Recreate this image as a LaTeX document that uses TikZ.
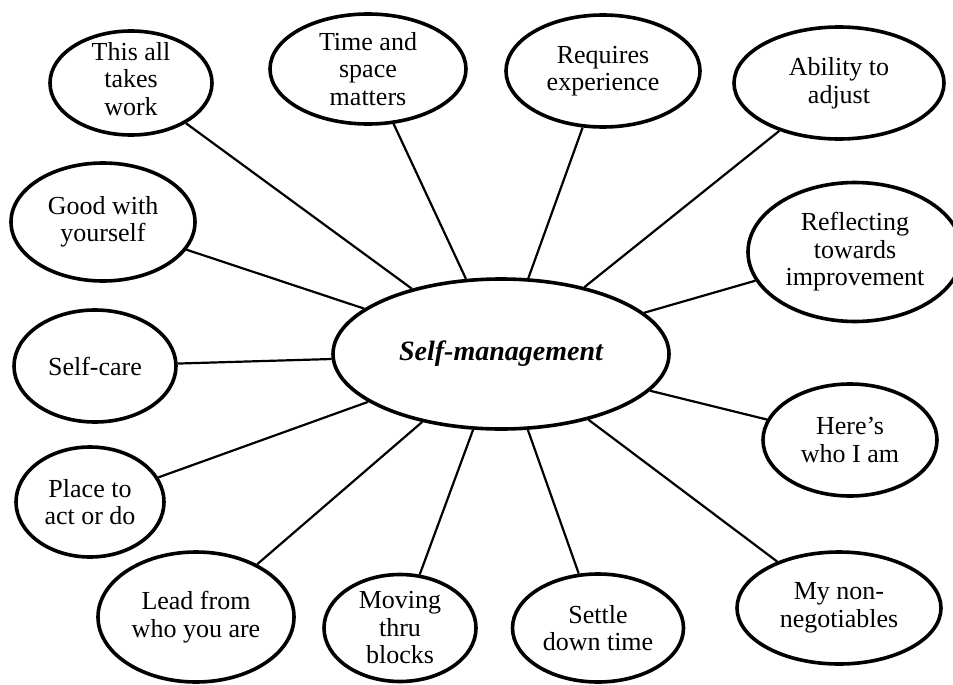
\documentclass[tikz,border=0pt]{standalone}
\usepackage{fontspec}
\setmainfont{Liberation Serif}
\usetikzlibrary{shapes.geometric}
\begin{document}
\begin{tikzpicture}[x=1pt,y=-1pt,
  bubble/.style={ellipse, draw, line width=3.6pt, inner sep=0pt, fill=white},
  caption/.style={align=center, inner sep=0pt, font=\fontsize{26}{27.5}\selectfont},
  hubtext/.style={inner sep=0pt, font=\fontsize{28}{30}\selectfont\bfseries\itshape},
  link/.style={line width=2.2pt}]
\useasboundingbox (0,0) rectangle (953,685);

% central idea
\node[bubble, minimum width=336, minimum height=150,
      label={[hubtext]center:Self-management}] (hub) at (501,354) {};

% surrounding ideas
\node[bubble, minimum width=162, minimum height=104,
      label={[caption, yshift=4pt]center:{This all\\takes\\work}}] (work) at (131,83) {};
\node[bubble, minimum width=196, minimum height=110,
      label={[caption]center:{Time and\\space\\matters}}] (space) at (368,69) {};
\node[bubble, minimum width=194, minimum height=112,
      label={[caption]center:{Requires\\experience}}] (exper) at (603,71) {};
\node[bubble, minimum width=210, minimum height=112,
      label={[caption]center:{Ability to\\adjust}}] (adjust) at (839,83) {};
\node[bubble, minimum width=184, minimum height=118,
      label={[caption]center:{Good with\\yourself}}] (good) at (103,222) {};
\node[bubble, minimum width=214, minimum height=139,
      label={[caption]center:{Reflecting\\towards\\improvement}}] (reflect) at (855,252) {};
\node[bubble, minimum width=162, minimum height=112,
      label={[caption]center:{Self-care}}] (care) at (95,366) {};
\node[bubble, minimum width=174, minimum height=112,
      label={[caption]center:{Here’s\\who I am}}] (here) at (850,440) {};
\node[bubble, minimum width=148, minimum height=110,
      label={[caption]center:{Place to\\act or do}}] (place) at (90,502) {};
\node[bubble, minimum width=196, minimum height=130,
      label={[caption]center:{Lead from\\who you are}}] (lead) at (196,617) {};
\node[bubble, minimum width=152, minimum height=107,
      label={[caption]center:{Moving\\thru\\blocks}}] (moving) at (400,628) {};
\node[bubble, minimum width=171, minimum height=108,
      label={[caption]center:{Settle\\down time}}] (settle) at (598,628) {};
\node[bubble, minimum width=204, minimum height=112,
      label={[caption]center:{My non-\\negotiables}}] (nonneg) at (839,608) {};

% spokes
\foreach \n in {work,space,exper,adjust,good,reflect,care,here,place,lead,moving,settle,nonneg}
  \draw[link] (hub) -- (\n);
\end{tikzpicture}
\end{document}
